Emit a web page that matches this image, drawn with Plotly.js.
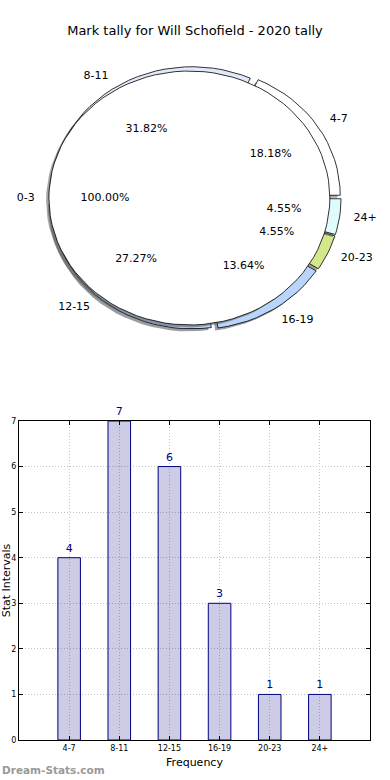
<!DOCTYPE html>
<html><head><meta charset="utf-8">
<script src="https://cdn.plot.ly/plotly-3.0.1.min.js"></script>
<style>html,body{margin:0;padding:0;background:#fff}#chart{width:390px;height:780px}</style>
</head><body><div id="chart"></div>
<script>
// ---- data ----
const categories = ["4-7", "8-11", "12-15", "16-19", "20-23", "24+"];
const counts = [4, 7, 6, 3, 1, 1];
const baseCategory = ["0-3"];
const baseShare = [1.0];   // drawn as the full disc, labelled 100.00%
const yTicks = [0, 1, 2, 3, 4, 5, 6, 7];

// ---- styles ----
const wedgeColors = ["#ffffff", "#e2e9f9", "#b9d5fa", "#b9d5fa", "#d3e88c", "#e0fbfb"];
const EXPL = 0.04, SH = 0.02, LABR = 1.1, PCTR = 0.6, NPTS = 90;
const FONT = "DejaVu Sans, sans-serif";

function hexRgb(h){h=h.replace('#','');return [0,2,4].map(i=>parseInt(h.substr(i,2),16));}
function shadowColor(h){const c=hexRgb(h).map(v=>Math.round(v*0.3));return `rgba(${c[0]},${c[1]},${c[2]},0.5)`;}
function wedgePoly(cx, cy, t1, t2, full){
  const xs=[], ys=[];
  if(!full){xs.push(cx); ys.push(cy);}
  const n = Math.max(8, Math.round(NPTS*(t2-t1)/(2*Math.PI)));
  for(let k=0;k<=n;k++){const t=t1+(t2-t1)*k/n; xs.push(cx+Math.cos(t)); ys.push(cy+Math.sin(t));}
  if(!full){xs.push(cx); ys.push(cy);}
  return {xs, ys};
}

const traces = [];
const lab = {x:[], y:[], text:[], pos:[]};
const pct = {x:[], y:[], text:[]};
const total = counts.reduce((a,b)=>a+b, 0);

function addWedge(name, frac, start, color, full){
  const t1 = start*2*Math.PI, t2 = (start+frac)*2*Math.PI, tm = (t1+t2)/2;
  const cx = EXPL*Math.cos(tm), cy = EXPL*Math.sin(tm);
  const p = wedgePoly(cx, cy, t1, t2, full);
  traces.push({type:'scatter', mode:'lines', xaxis:'x2', yaxis:'y2', x:p.xs.map(v=>v-SH), y:p.ys.map(v=>v-SH),
    fill:'toself', fillcolor:shadowColor(color), line:{width:0, color:'rgba(0,0,0,0)'}, hoverinfo:'skip', showlegend:false});
  traces.push({type:'scatter', mode:'lines', xaxis:'x2', yaxis:'y2', x:p.xs, y:p.ys,
    fill:'toself', fillcolor:color, line:{width:0.8, color:'#000'}, hoverinfo:'skip', showlegend:false});
  const lx = cx + LABR*Math.cos(tm), ly = cy + LABR*Math.sin(tm);
  lab.x.push(lx); lab.y.push(ly); lab.text.push(name); lab.pos.push(lx < 0 ? 'middle left' : 'middle right');
  pct.x.push(cx + PCTR*Math.cos(tm)); pct.y.push(cy + PCTR*Math.sin(tm)); pct.text.push((frac*100).toFixed(2)+'%');
}

let acc = 0;
counts.forEach((c,i)=>{ addWedge(categories[i], c/total, acc, wedgeColors[i], false); acc += c/total; });
addWedge(baseCategory[0], baseShare[0], 0, "#ffffff", true);

traces.push({type:'scatter', mode:'text', xaxis:'x2', yaxis:'y2', x:lab.x, y:lab.y, text:lab.text, textposition:lab.pos,
  textfont:{family:FONT, size:11, color:'#000'}, hoverinfo:'skip', showlegend:false, cliponaxis:false});
traces.push({type:'scatter', mode:'text', xaxis:'x2', yaxis:'y2', x:pct.x, y:pct.y, text:pct.text, textposition:'middle center',
  textfont:{family:FONT, size:11, color:'#000'}, hoverinfo:'skip', showlegend:false, cliponaxis:false});

// bar chart
traces.push({type:'bar', x:categories, y:counts, width:0.45,
  marker:{color:'rgba(0,0,128,0.2)', line:{color:'#000080', width:1}},
  text:counts.map(String), textposition:'outside', cliponaxis:false, constraintext:'none',
  textfont:{family:FONT, size:11, color:'#000080'}, hoverinfo:'skip', showlegend:false});

const W=390, H=780;
const axCommon = {showline:true, mirror:'ticks', linecolor:'#000', linewidth:1, ticks:'inside', ticklen:4, tickcolor:'#000',
  showgrid:true, gridcolor:'#c4c4c4', griddash:'1px,2px', gridwidth:1, zeroline:false,
  tickfont:{family:FONT, size:8, color:'#000'}};

const layout = {
  width:W, height:H, margin:{l:0, r:0, t:0, b:0}, paper_bgcolor:'#fff', plot_bgcolor:'#fff',
  font:{family:FONT},
  title:{text:'Mark tally for Will Schofield - 2020 tally', x:0.5, xanchor:'center', y:1-30/H, yanchor:'middle',
    font:{family:FONT, size:13, color:'#000'}},
  xaxis:Object.assign({}, axCommon, {domain:[19/W, 370/W], anchor:'y', range:[-1, 6], type:'category',
    title:{text:'Frequency', font:{family:FONT, size:11, color:'#000'}, standoff:6}}),
  yaxis:Object.assign({}, axCommon, {domain:[40/H, 359/H], anchor:'x', range:[0, 7], tickvals:yTicks,
    title:{text:'Stat Intervals', font:{family:FONT, size:11, color:'#000'}, standoff:0}}),
  xaxis2:{domain:[0,1], anchor:'y2', range:[-195/140.5, 195/140.5], visible:false, fixedrange:true},
  yaxis2:{domain:[(H-360)/H, (H-40)/H], anchor:'x2', range:[-162/127, 158/127], visible:false, fixedrange:true},
  annotations:[{text:'<b>Dream-Stats.com</b>', xref:'paper', yref:'paper', x:0, y:10/H, xanchor:'left', yanchor:'middle',
    showarrow:false, font:{family:'DejaVu Sans, sans-serif', size:10.5, color:'#999999'}}]
};

Plotly.newPlot('chart', traces, layout, {displayModeBar:false, staticPlot:true});
</script></body></html>
